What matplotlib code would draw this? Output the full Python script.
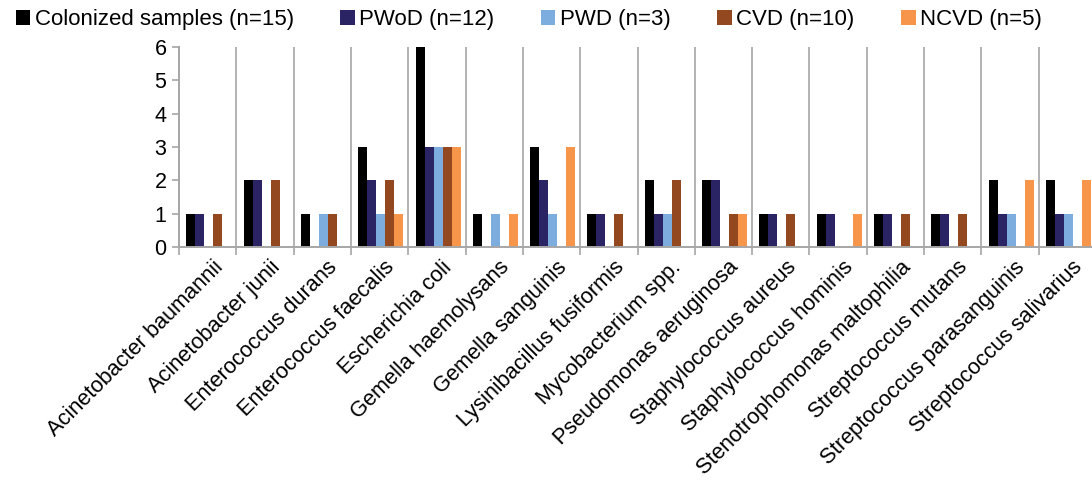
import numpy as np
import matplotlib.pyplot as plt

plt.rcParams['font.family'] = ['Liberation Sans', 'DejaVu Sans']

species = [
    'Acinetobacter baumannii', 'Acinetobacter junii', 'Enterococcus durans',
    'Enterococcus faecalis', 'Escherichia coli', 'Gemella haemolysans',
    'Gemella sanguinis', 'Lysinibacillus fusiformis', 'Mycobacterium spp.',
    'Pseudomonas aeruginosa', 'Staphylococcus aureus', 'Staphylococcus hominis',
    'Stenotrophomonas maltophilia', 'Streptococcus mutans',
    'Streptococcus parasanguinis', 'Streptococcus salivarius',
]
colonized = [1, 2, 1, 3, 6, 1, 3, 1, 2, 2, 1, 1, 1, 1, 2, 2]
pwod = [1, 2, 0, 2, 3, 0, 2, 1, 1, 2, 1, 1, 1, 1, 1, 1]
pwd = [0, 0, 1, 1, 3, 1, 1, 0, 1, 0, 0, 0, 0, 0, 1, 1]
cvd = [1, 2, 1, 2, 3, 0, 0, 1, 2, 1, 1, 0, 1, 1, 0, 0]
ncvd = [0, 0, 0, 1, 3, 1, 3, 0, 0, 1, 0, 1, 0, 0, 2, 2]

series_names = ['Colonized samples (n=15)', 'PWoD (n=12)', 'PWD (n=3)',
                'CVD (n=10)', 'NCVD (n=5)']
series_colors = ['#000000', '#2b2464', '#7dadde', '#94481f', '#f7964a']

fig = plt.figure(figsize=(10.92, 4.84), dpi=100)
ax = fig.add_axes([179 / 1092, 1 - 247 / 484, 917 / 1092, 200 / 484])

x = np.arange(len(species))
w = 0.157
for i, (vals, name, col) in enumerate(zip([colonized, pwod, pwd, cvd, ncvd],
                                           series_names, series_colors)):
    ax.bar(x + (i - 2) * w + 0.02, vals, width=w, color=col, label=name, lw=0)

grid_c = '#a6a6a6'
ax.set_xlim(-0.5, len(species) - 0.5)
ax.set_ylim(0, 6)
ax.set_yticks(range(7))
bounds = np.arange(len(species) + 1) - 0.5
for b in bounds[1:]:
    ax.axvline(b, color=grid_c, lw=1.2, zorder=0)
ax.set_xticks(bounds)
ax.set_xticklabels([])
ax.set_xticks(x + 0.08, minor=True)
ax.set_xticklabels(species, minor=True, rotation=45, ha='right',
                   rotation_mode='anchor', fontsize=15.7)
ax.tick_params(axis='x', which='minor', length=0, pad=7)
ax.tick_params(axis='x', which='major', length=6, color=grid_c, width=1.2)
ax.tick_params(axis='y', length=5, color=grid_c, width=1.2, labelsize=15.5, pad=4)

for s in ['top', 'right']:
    ax.spines[s].set_visible(False)
for s in ['left', 'bottom']:
    ax.spines[s].set_color(grid_c)
    ax.spines[s].set_linewidth(1.4)

fig.legend(loc='upper left', bbox_to_anchor=(-0.004, 1.022), ncol=5,
           frameon=False, fontsize=16, handlelength=0.65, handleheight=0.65,
           handletextpad=0.2, columnspacing=2.1)

fig.savefig('out.png', dpi=100)
